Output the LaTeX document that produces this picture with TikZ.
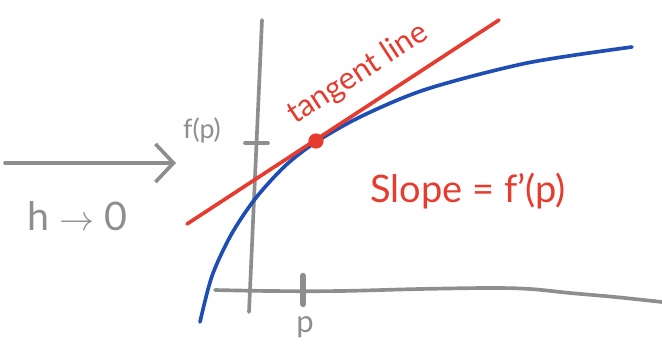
\documentclass[tikz,border=0pt]{standalone}
\usepackage{fontspec}
\setmainfont{Lato}
\usepackage{tikz}
\usetikzlibrary{arrows.meta,positioning}
\definecolor{sketchgray}{HTML}{8E8E8E}
\definecolor{sketchred}{HTML}{E63B2E}
\definecolor{sketchblue}{HTML}{1E4DB3}
\tikzset{
  axisline/.style={draw=sketchgray,line width=2.6pt,line cap=round},
  curveline/.style={draw=sketchblue,line width=2.6pt,line cap=round},
  tangentline/.style={draw=sketchred,line width=2.6pt,line cap=round},
  graylabel/.style={text=sketchgray,inner sep=1pt},
  redlabel/.style={text=sketchred,inner sep=1pt}
}

\begin{document}
\begin{tikzpicture}[
  x=0.025cm,y=-0.025cm,
  limitarrow/.style={axisline,-{Straight Barb[length=4.5mm,width=9.5mm,line width=2.6pt]}},
  touchdot/.style={circle,fill=sketchred,inner sep=0pt,minimum size=0.38cm}
]
  \useasboundingbox (0,0) rectangle (662,348);

  \coordinate (ytop) at (262,20);
  \coordinate (ybottom) at (249,312);
  \draw[axisline] (ytop)--(ybottom);
  \draw[axisline] plot[smooth,tension=0.6] coordinates
    {(215,290) (270,291) (340,291) (420,289) (490,288) (530,289) (570,293)
     (615,297) (662,302)};
  \draw[axisline] (245,143)--(268,143);
  \draw[axisline,line width=4.6pt] (303,276)--(303,304);

  \node[graylabel,font=\fontsize{19}{22}\selectfont] (fp) at (202,130) {f(p)};
  \node[graylabel,font=\fontsize{22}{26}\selectfont] (plabel) at (305,327) {p};

  \draw[curveline] plot[smooth] coordinates
    {(200,322) (212,276) (231,235) (255,199) (285,166) (316,142) (362,116)
     (427,89) (527,63) (632,47)};

  \coordinate (tanlow) at (187,224);
  \coordinate (tanhigh) at (499,20);
  \draw[tangentline] (tanlow)--(tanhigh);
  \node[touchdot] (touch) at (316,141) {};

  \node[redlabel,rotate=33,font=\fontsize{22}{26}\selectfont] (tanname) at (358,74) {tangent line};
  \node[redlabel,font=\fontsize{27}{31}\selectfont] (slope) at (468,191) {Slope = f’(p)};

  \coordinate (arrowstart) at (5,163);
  \coordinate (arrowend) at (176,163);
  \draw[limitarrow] (arrowstart)--(arrowend);
  \node[graylabel,font=\fontsize{28}{32}\selectfont] (limit) at (77,216) {h $\to$ 0};
\end{tikzpicture}
\end{document}
